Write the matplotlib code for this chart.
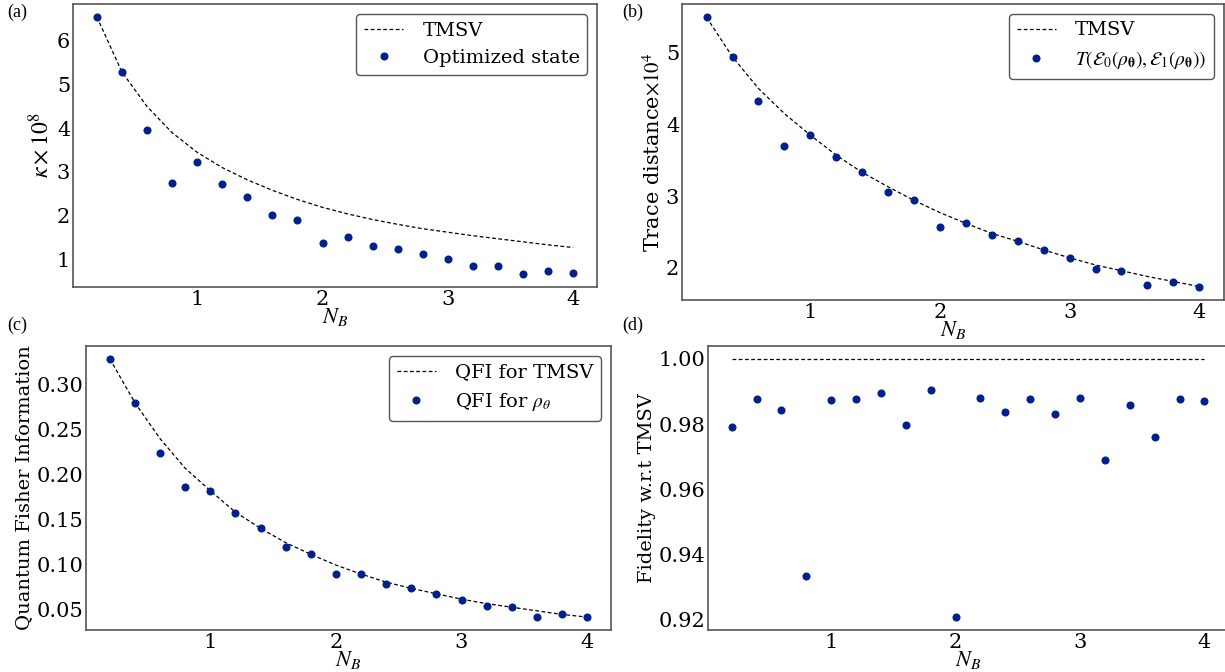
import numpy as np
import matplotlib
matplotlib.use('Agg')
import matplotlib.pyplot as plt

plt.rcParams['font.family'] = 'DejaVu Serif'
plt.rcParams['mathtext.fontset'] = 'stix'

# Data
nb = [0.2, 0.4, 0.6, 0.8, 1.0, 1.2, 1.4, 1.6, 1.8, 2.0,
      2.2, 2.4, 2.6, 2.8, 3.0, 3.2, 3.4, 3.6, 3.8, 4.0]

kappa_tmsv = [6.55, 5.29, 4.50, 3.90, 3.45, 3.10, 2.82, 2.58, 2.37, 2.19,
              2.04, 1.91, 1.80, 1.70, 1.62, 1.54, 1.47, 1.40, 1.33, 1.27]
kappa_opt = [6.55, 5.29, 3.95, 2.75, 3.22, 2.73, 2.42, 2.02, 1.90, 1.38,
             1.51, 1.31, 1.23, 1.12, 1.01, 0.85, 0.85, 0.66, 0.73, 0.68]

trace_tmsv = [5.49, 4.94, 4.50, 4.15, 3.85, 3.57, 3.33, 3.13, 2.94, 2.77,
              2.62, 2.48, 2.37, 2.25, 2.14, 2.04, 1.96, 1.88, 1.81, 1.74]
trace_opt = [5.49, 4.94, 4.33, 3.70, 3.85, 3.55, 3.33, 3.06, 2.94, 2.57,
             2.62, 2.46, 2.37, 2.25, 2.14, 1.98, 1.96, 1.76, 1.81, 1.74]

qfi_tmsv = [0.329, 0.280, 0.240, 0.207, 0.182, 0.158, 0.140, 0.124, 0.111, 0.099,
            0.089, 0.080, 0.073, 0.067, 0.061, 0.056, 0.052, 0.048, 0.044, 0.041]
qfi_opt = [0.329, 0.280, 0.224, 0.186, 0.182, 0.157, 0.140, 0.119, 0.111, 0.089,
           0.089, 0.078, 0.073, 0.067, 0.060, 0.053, 0.052, 0.041, 0.044, 0.041]

fid_tmsv = [1.0] * 20
fid_opt = [0.9791, 0.9878, 0.9844, 0.9332, 0.9874, 0.9876, 0.9894, 0.9798, 0.9904, 0.9207,
           0.9879, 0.9838, 0.9876, 0.9832, 0.9881, 0.9689, 0.9859, 0.9759, 0.9876, 0.9870]

dot_color = '#00208c'
spine_color = '#555555'


def style_axes(ax):
    for s in ax.spines.values():
        s.set_color(spine_color)
        s.set_linewidth(1.2)
    ax.tick_params(length=0, labelsize=15, pad=2)
    ax.set_xlabel('$N_B$', fontsize=16, labelpad=-2)


def draw(ax, line, dots, line_label, dot_label, ylabel, ysize=15, legend=True):
    ax.plot(nb, line, color='black', linestyle=(0, (3, 2)), linewidth=0.9, label=line_label)
    ax.plot(nb, dots, 'o', color=dot_color, markersize=4.8, linestyle='none', label=dot_label)
    ax.set_ylabel(ylabel, fontsize=ysize, labelpad=2)
    style_axes(ax)
    if legend:
        leg = ax.legend(loc='upper right', fontsize=14, frameon=True, fancybox=True,
                        edgecolor='#555555', framealpha=1, borderpad=0.4,
                        handlelength=2.0, handletextpad=1.0)
        leg.get_frame().set_linewidth(1.0)


fig = plt.figure(figsize=(12.25, 6.72), dpi=100)

ax_a = fig.add_axes([0.0596, 0.5729, 0.4278, 0.4211])
ax_b = fig.add_axes([0.5567, 0.5536, 0.4424, 0.4405])
ax_c = fig.add_axes([0.0702, 0.0625, 0.4286, 0.4226])
ax_d = fig.add_axes([0.5780, 0.0625, 0.4245, 0.4226])

draw(ax_a, kappa_tmsv, kappa_opt, 'TMSV', 'Optimized state', r'$\kappa\times10^8$', ysize=17)
ax_a.set_yticks([1, 2, 3, 4, 5, 6])
ax_a.set_xticks([1, 2, 3, 4])

draw(ax_b, trace_tmsv, trace_opt, 'TMSV',
     r'$T(\mathcal{E}_0(\rho_{\mathbf{\theta}}), \mathcal{E}_1(\rho_{\mathbf{\theta}}))$',
     'Trace distance$\\times10^4$')
ax_b.set_yticks([2, 3, 4, 5])
ax_b.set_xticks([1, 2, 3, 4])

draw(ax_c, qfi_tmsv, qfi_opt, 'QFI for TMSV', r'QFI for $\rho_\theta$',
     'Quantum Fisher Information', ysize=14)
ax_c.set_yticks([0.05, 0.10, 0.15, 0.20, 0.25, 0.30])
ax_c.set_xticks([1, 2, 3, 4])

draw(ax_d, fid_tmsv, fid_opt, None, None, 'Fidelity w.r.t TMSV', ysize=14, legend=False)
ax_d.set_yticks([0.92, 0.94, 0.96, 0.98, 1.00])
ax_d.set_xticks([1, 2, 3, 4])

for lab, x, y in [('(a)', 0.006, 0.981), ('(b)', 0.508, 0.981),
                  ('(c)', 0.006, 0.516), ('(d)', 0.508, 0.516)]:
    fig.text(x, y, lab, family='Liberation Serif', fontsize=13, va='center')

fig.savefig('out.png', dpi=100)
